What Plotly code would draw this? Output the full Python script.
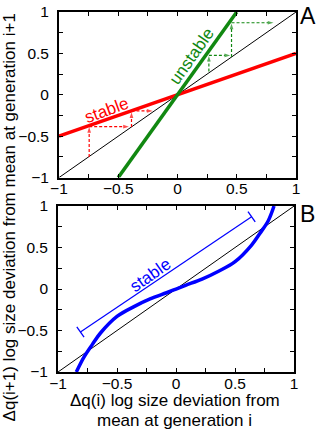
import numpy as np
import plotly.graph_objects as go

# ---------------- data ----------------
ticks = [-1, -0.5, 0, 0.5, 1]
tick_labels = ["\u22121", "\u22120.5", "0", "0.5", "1"]

# Panel A
diag_x = [-1, 1]
diag_y = [-1, 1]
stable_x = [-1, 1]
stable_y = [-0.5, 0.5]
unstable_x = [-0.5, 0.5]
unstable_y = [-1, 1]

# staircase arrows (x0, y0, x1, y1)
red_arrows = [(-0.745, -0.75, -0.745, -0.39),
              (-0.745, -0.385, -0.41, -0.385),
              (-0.388, -0.388, -0.388, -0.21),
              (-0.388, -0.195, -0.21, -0.195)]
green_arrows = [(0.265, 0.28, 0.265, 0.47),
                (0.265, 0.475, 0.445, 0.475),
                (0.456, 0.456, 0.456, 0.86),
                (0.456, 0.87, 0.81, 0.87)]

# Panel B
curve_x = [-0.845, -0.78, -0.71, -0.64, -0.5, -0.36, -0.22, -0.08, 0,
           0.08, 0.22, 0.36, 0.5, 0.64, 0.71, 0.78, 0.83]
curve_y = [-1, -0.82, -0.67, -0.53, -0.33, -0.215, -0.12, -0.045, 0,
           0.045, 0.12, 0.215, 0.33, 0.53, 0.67, 0.82, 1]
bracket_x = [-0.81, 0.64]
bracket_y = [-0.517, 0.87]

x_title_lines = ["Δq(i) log size deviation from", "mean at generation i"]
y_title = "Δq(i+1) log size deviation from mean at generation i+1"

RED = "#ff0000"
GREEN = "#118811"
BLUE = "#0000ff"
FONT = "Liberation Sans, Arial, sans-serif"

fig = go.Figure()

def add(tr, panel):
    if panel == "B":
        tr.update(xaxis="x2", yaxis="y2")
    fig.add_trace(tr)

# Panel A
add(go.Scatter(x=diag_x, y=diag_y, mode="lines", line=dict(color="black", width=1)), "A")
for arr, col in ((red_arrows, RED), (green_arrows, GREEN)):
    for (x0, y0, x1, y1) in arr:
        add(go.Scatter(x=[x0, x1], y=[y0, y1], mode="lines+markers",
                       line=dict(color=col, width=1.2, dash="3px,2px"),
                       marker=dict(symbol="arrow", angleref="previous", size=[0, 6],
                                   color=col, line=dict(width=0))), "A")
add(go.Scatter(x=stable_x, y=stable_y, mode="lines", line=dict(color=RED, width=3.5)), "A")
add(go.Scatter(x=unstable_x, y=unstable_y, mode="lines", line=dict(color=GREEN, width=3.5)), "A")

# Panel B
add(go.Scatter(x=diag_x, y=diag_y, mode="lines", line=dict(color="black", width=1)), "B")
add(go.Scatter(x=curve_x, y=curve_y, mode="lines", line=dict(color=BLUE, width=3.5, shape="spline")), "B")
add(go.Scatter(x=bracket_x, y=bracket_y, mode="lines+markers",
               line=dict(color=BLUE, width=1.2),
               marker=dict(symbol="line-ns", size=9, angle=-35,
                           line=dict(color=BLUE, width=1.3))), "B")

axis_common = dict(range=[-1, 1], tickvals=ticks, ticktext=tick_labels,
                   ticks="inside", ticklen=4, tickwidth=1, tickcolor="black",
                   minor=dict(dtick=0.25, ticks="inside", ticklen=4, tickcolor="black"),
                   showline=True, linecolor="black", linewidth=1.8, mirror="allticks",
                   showgrid=False, zeroline=False,
                   tickfont=dict(family=FONT, size=15.5, color="black"))

fig.update_layout(
    width=316, height=432,
    margin=dict(l=58, r=20, t=3, b=60),
    paper_bgcolor="white", plot_bgcolor="white",
    showlegend=False,
    xaxis=dict(axis_common, domain=[0.004, 1], anchor="y", ticklabelstandoff=-4),
    yaxis=dict(axis_common, domain=[0.54, 1], anchor="x", ticklabelstandoff=5),
    xaxis2=dict(axis_common, domain=[0, 0.992], anchor="y2", ticklabelstandoff=-4),
    yaxis2=dict(axis_common, domain=[0, 0.461], anchor="x2", ticklabelstandoff=5),
)

ann = [
    dict(text="unstable", x=0.12, y=0.46, xref="x", yref="y", textangle=-55,
         font=dict(family=FONT, size=17, color=GREEN), showarrow=False),
    dict(text="stable", x=-0.6, y=-0.19, xref="x", yref="y", textangle=-20,
         font=dict(family=FONT, size=17, color=RED), showarrow=False),
    dict(text="stable", x=-0.22, y=0.16, xref="x2", yref="y2", textangle=-35,
         font=dict(family=FONT, size=17, color=BLUE), showarrow=False),
    dict(text="A", x=1.05, y=0.99, xref="paper", yref="paper", xanchor="center",
         yanchor="middle", font=dict(family=FONT, size=23, color="black"), showarrow=False),
    dict(text="B", x=1.05, y=0.44, xref="paper", yref="paper", xanchor="center",
         yanchor="middle", font=dict(family=FONT, size=23, color="black"), showarrow=False),
    dict(text=y_title,
         x=-0.205, y=0.43, xref="paper", yref="paper", textangle=-90,
         xanchor="center", yanchor="middle",
         font=dict(family=FONT, size=17, color="black"), showarrow=False),
    dict(text=x_title_lines[0],
         x=0.49, y=-0.08, xref="paper", yref="paper", xanchor="center", yanchor="middle",
         font=dict(family=FONT, size=17, color="black"), showarrow=False),
    dict(text=x_title_lines[1],
         x=0.49, y=-0.134, xref="paper", yref="paper", xanchor="center", yanchor="middle",
         font=dict(family=FONT, size=17, color="black"), showarrow=False),
]
fig.update_layout(annotations=ann)

fig.write_html("out.html", config={"displayModeBar": False},
               post_script="document.body.style.margin='0';document.body.style.padding='0';")
